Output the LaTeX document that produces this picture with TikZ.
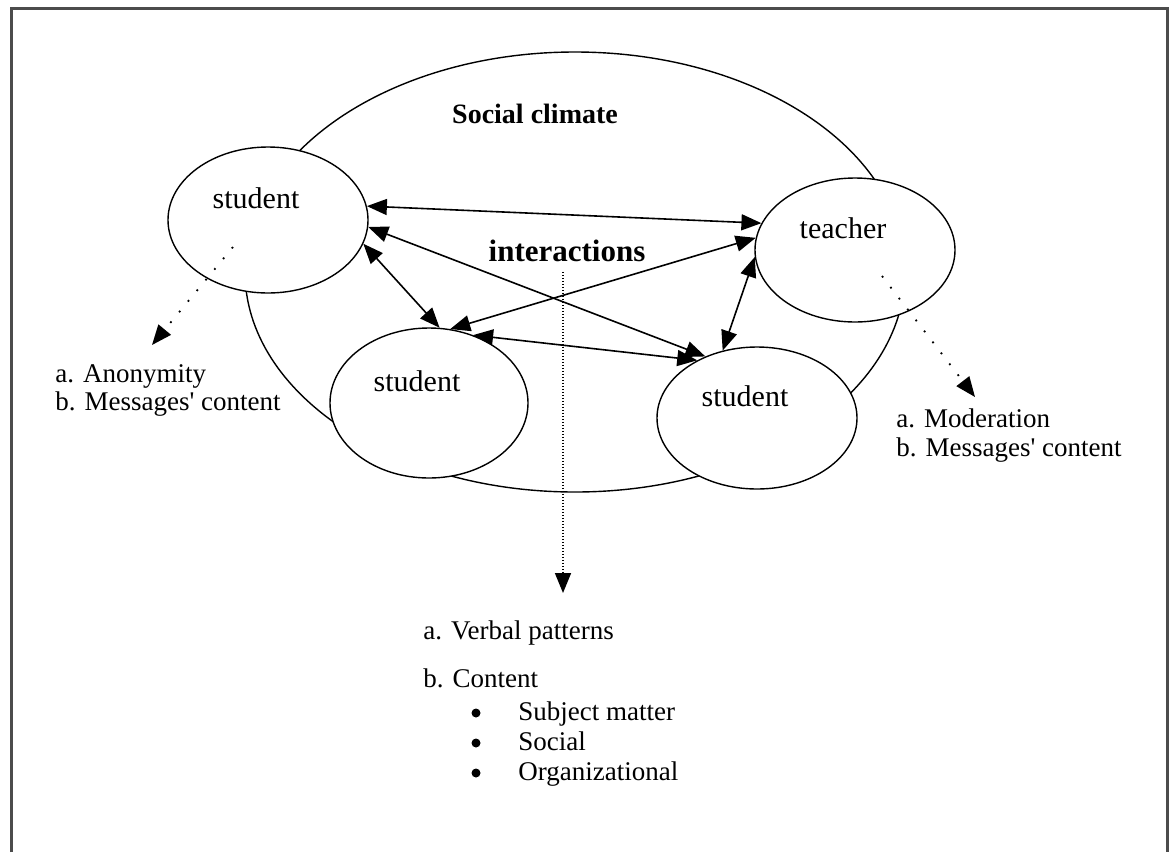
\documentclass[tikz,border=0pt]{standalone}
\usepackage{fontspec}
\setmainfont{Liberation Serif}
\usetikzlibrary{calc,arrows.meta,shapes.geometric}
\tikzset{>={Triangle[length=10pt,width=8pt]}}
\tikzset{
  blob/.style={ellipse,draw,fill=white,inner sep=0pt,line width=0.7pt},
  who/.style={font=\fontsize{15}{18}\selectfont,xshift=-6pt,yshift=11pt},
  head/.style={font=\fontsize{15}{18}\selectfont\bfseries},
  note/.style={font=\fontsize{13.5}{15}\selectfont,inner sep=0pt,anchor=base west},
  blt/.style={circle,fill,inner sep=0pt,minimum size=4.5pt},
  link/.style={<->,line width=0.8pt},
  hint/.style={->,line width=0.9pt,dash pattern=on 0.9pt off 6pt},
  vhint/.style={->,line width=0.8pt,dash pattern=on 0.6pt off 0.9pt},
}

\begin{document}
\begin{tikzpicture}[x=0.5pt,y=-0.5pt]
\useasboundingbox (0,0) rectangle (1173,852);
\draw[line width=1.5pt,black!70] (11,852) |- (1167,8) -- (1167,852);

% social climate
\node[blob,fill=none,minimum width=330pt,minimum height=220pt] (clim) at (575,272) {};
\node[head,font=\fontsize{14}{17}\selectfont\bfseries] (soc) at (535,114) {Social climate};
\node[head,font=\fontsize{15.5}{18}\selectfont\bfseries] (inter) at (567,251) {interactions};

% participants
\node[blob,minimum width=100pt,minimum height=73pt,label={[who]center:student}] (s1) at (268,220) {};
\node[blob,minimum width=100pt,minimum height=72pt,label={[who]center:teacher}] (te) at (855,250) {};
\node[blob,minimum width=99pt,minimum height=75pt,label={[who]center:student}] (s2) at (429,403) {};
\node[blob,minimum width=100pt,minimum height=71pt,label={[who]center:student}] (s3) at (757,418) {};

\draw[link] (s1.8) -- (te.164);
\draw[link] (s1.-4) -- (s3.130);
\draw[link] (s1.-14) -- (s2.82);
\draw[link] (s2.74) -- (te.173);
\draw[link] (s2.57) -- (s3.136);
\draw[link] (te.184) -- (s3.117);

% what is looked at
\node[note] (anon) at (55,382) {a. Anonymity};
\node[note] (anonb) at (55,410) {b. Messages\textquotesingle{} content};
\node[note] (moder) at (896,427) {a. Moderation};
\node[note] (moderb) at (896,456) {b. Messages\textquotesingle{} content};
\node[note] (verbal) at (423,639) {a. Verbal patterns};
\node[note] (content) at (423,687) {b. Content};
\foreach \t [count=\i] in {Subject matter,Social,Organizational} {
  \node[blt] (dot\i) at (476,683+30*\i) {};
  \node[note] (item\i) at (518,690+30*\i) {\t};
}

\draw[hint] ($(s1.center)+(-35,27)$) -- ($(anon.base west)+(97,-37)$);
\draw[hint] ($(te.center)+(27,26)$) -- ($(moder.base west)+(79,-30)$);
\draw[vhint] ($(inter.south)+(-4,3)$) -- ($(verbal.base west)+(140,-46)$);
\end{tikzpicture}
\end{document}
